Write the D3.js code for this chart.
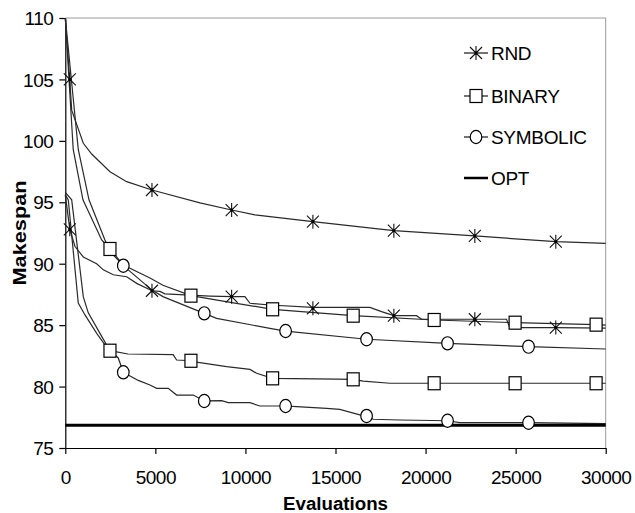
<!DOCTYPE html>
<html>
<head>
<meta charset="utf-8">
<script src="https://cdn.jsdelivr.net/npm/d3@7"></script>
<style>
  body { margin: 0; background: #fff; }
  svg text { font-family: "Liberation Sans", Arial, sans-serif; fill: #000; }
</style>
</head>
<body>
<div id="chart"></div>
<script>
// tamanho da janela
const width = 635;
const height = 513;

// valores: [avaliacoes, makespan]
const rndA = [[0,110],[250,104.9],[355,102.5],[1000,99.8],[1465,98.93],[2480,97.49],[3407,96.68],[4811,96.0],[7475,94.95],[9234,94.37],[10527,93.97],[13745,93.42],[18240,92.69],[22735,92.26],[27230,91.79],[30000,91.66]];
const rndB = [[0,95.6],[250,92.8],[540,91.4],[1000,90.55],[1740,90.0],[2110,89.5],[2660,89.1],[3407,88.94],[3962,88.4],[4811,87.8],[5255,87.75],[5533,87.55],[8030,87.37],[9234,87.32],[9972,87.32],[10250,86.78],[11360,86.64],[13745,86.45],[16908,86.45],[17558,86.1],[18240,85.77],[19500,85.77],[19778,85.48],[22735,85.48],[24495,85.48],[24678,84.8],[27230,84.8],[30000,84.75]];
const binA = [[0,110],[440,99.3],[980,95.2],[2020,91.93],[2480,91.2],[3220,89.9],[4700,88.84],[5420,88.25],[6975,87.4],[9000,86.9],[11509,86.29],[15982,85.77],[20477,85.42],[24972,85.2],[29467,85.04],[30000,85.0]];
const binB = [[0,95.8],[355,95.2],[1000,87.3],[1276,86.0],[1925,84.33],[2480,82.92],[3480,82.65],[5990,82.6],[6180,82.16],[6975,82.1],[7380,81.97],[8955,81.62],[10250,81.4],[10620,81.08],[11509,80.67],[15060,80.6],[15982,80.59],[16540,80.45],[18020,80.27],[30000,80.27]];
const symA = [[0,110],[720,99.3],[1315,95.2],[2200,91.93],[2480,91.0],[3220,89.84],[4811,87.85],[5420,87.32],[7714,85.96],[8400,85.55],[11360,84.74],[12230,84.52],[16725,83.85],[21220,83.52],[25716,83.25],[30000,83.06]];
const symB = [[0,95.6],[166,95.2],[720,86.8],[1093,85.83],[1743,84.33],[2300,83.2],[2480,82.95],[2940,82.33],[3219,81.16],[4050,80.5],[4700,80.13],[5070,79.86],[5715,79.86],[6180,79.31],[7100,79.31],[7714,78.83],[8680,78.85],[9050,78.69],[10250,78.69],[10800,78.42],[12230,78.42],[12840,78.37],[14505,78.23],[15240,78.15],[16350,77.7],[16725,77.61],[17090,77.34],[18570,77.28],[21220,77.22],[21900,77.06],[25716,77.06],[30000,76.98]];
const optValue = 76.85;

// posicoes dos marcadores e valores
const rndMarkX = [250, 4811, 9234, 13745, 18240, 22735, 27230];
const rndAMarks = [105.0, 96.0, 94.37, 93.42, 92.69, 92.26, 91.79];
const rndBMarks = [92.8, 87.8, 87.32, 86.37, 85.77, 85.48, 84.8];
const binMarkX = [2480, 6975, 11509, 15982, 20477, 24972, 29467];
const binAMarks = [91.2, 87.4, 86.29, 85.77, 85.42, 85.2, 85.04];
const binBMarks = [82.92, 82.1, 80.67, 80.59, 80.27, 80.27, 80.27];
const symMarkX = [3220, 7714, 12230, 16725, 21220, 25716];
const symAMarks = [89.84, 85.96, 84.52, 83.85, 83.52, 83.25];
const symBMarks = [81.16, 78.83, 78.42, 77.61, 77.22, 77.06];

const xTicks = [0, 5000, 10000, 15000, 20000, 25000, 30000];
const yTicks = [75, 80, 85, 90, 95, 100, 105, 110];
const legendLabels = ["RND", "BINARY", "SYMBOLIC", "OPT"];

const svg = d3.select("#chart").append("svg")
    .attr("width", width)
    .attr("height", height);

// escalas
const x = d3.scaleLinear().domain([0, 30000]).range([65.3, 605.7]);
const y = d3.scaleLinear().domain([75, 110]).range([448, 18]);

// borda cinza da area do grafico (topo e direita)
svg.append("path")
    .attr("d", `M${x(0)},${y(110)}H${x(30000)}V${y(75)}`)
    .attr("fill", "none")
    .attr("stroke", "#9a9a9a")
    .attr("stroke-width", 1);

// eixos
const yAxis = svg.append("g")
    .attr("transform", `translate(${x(0)},0)`)
    .call(d3.axisLeft(y).tickValues(yTicks).tickSize(6).tickSizeOuter(0).tickPadding(6));
const xAxis = svg.append("g")
    .attr("transform", `translate(0,${y(75)})`)
    .call(d3.axisBottom(x).tickValues(xTicks).tickSize(6).tickSizeOuter(0).tickPadding(17).tickFormat(d3.format("d")));

[yAxis, xAxis].forEach(g => {
    g.selectAll("path, line").attr("stroke", "#000").attr("stroke-width", 1.2);
    g.selectAll("text")
        .style("font-family", "'Liberation Sans', Arial, sans-serif")
        .style("font-size", "19px")
        .style("letter-spacing", "-0.5px")
        .attr("fill", "#000");
});
yAxis.selectAll("text").attr("dy", "0.35em");

// titulos dos eixos
svg.append("text")
    .attr("x", (x(0) + x(30000)) / 2)
    .attr("y", 510)
    .attr("text-anchor", "middle")
    .attr("font-weight", "bold")
    .attr("font-size", "18px")
    .attr("textLength", 105)
    .attr("lengthAdjust", "spacingAndGlyphs")
    .text("Evaluations");

svg.append("text")
    .attr("transform", `translate(26,${(y(75) + y(110)) / 2}) rotate(-90)`)
    .attr("text-anchor", "middle")
    .attr("font-weight", "bold")
    .attr("font-size", "19px")
    .attr("textLength", 105)
    .attr("lengthAdjust", "spacingAndGlyphs")
    .text("Makespan");

// linhas das series
const line = d3.line().x(d => x(d[0])).y(d => y(d[1]));

const seriesList = [rndA, rndB, binA, binB, symA, symB];
svg.append("g")
    .selectAll("path")
    .data(seriesList)
    .enter()
    .append("path")
    .attr("d", line)
    .attr("fill", "none")
    .attr("stroke", "#2a2a2a")
    .attr("stroke-width", 1.2);

// linha OPT
svg.append("line")
    .attr("x1", x(0)).attr("x2", x(30000))
    .attr("y1", y(optValue)).attr("y2", y(optValue))
    .attr("stroke", "#000")
    .attr("stroke-width", 3);

// formas dos marcadores
function drawStar(g, cx, cy) {
    g.append("path")
        .attr("d", `M${cx},${cy - 7}V${cy + 7}M${cx - 6},${cy - 6}L${cx + 6},${cy + 6}M${cx - 6},${cy + 6}L${cx + 6},${cy - 6}`)
        .attr("stroke", "#111")
        .attr("stroke-width", 1.1)
        .attr("fill", "none");
    g.append("circle").attr("cx", cx).attr("cy", cy).attr("r", 1.5).attr("fill", "#000");
}
function drawSquare(g, cx, cy) {
    g.append("rect")
        .attr("x", cx - 6).attr("y", cy - 6.5)
        .attr("width", 12).attr("height", 13)
        .attr("fill", "#fff")
        .attr("stroke", "#000")
        .attr("stroke-width", 1.2);
}
function drawCircle(g, cx, cy) {
    g.append("ellipse")
        .attr("cx", cx).attr("cy", cy)
        .attr("rx", 5.8).attr("ry", 6.6)
        .attr("fill", "#fff")
        .attr("stroke", "#000")
        .attr("stroke-width", 1.2);
}

const marks = svg.append("g");
rndMarkX.forEach((ev, i) => {
    drawStar(marks, x(ev), y(rndAMarks[i]));
    drawStar(marks, x(ev), y(rndBMarks[i]));
});
binMarkX.forEach((ev, i) => {
    drawSquare(marks, x(ev), y(binAMarks[i]));
    drawSquare(marks, x(ev), y(binBMarks[i]));
});
symMarkX.forEach((ev, i) => {
    drawCircle(marks, x(ev), y(symAMarks[i]));
    drawCircle(marks, x(ev), y(symBMarks[i]));
});

// legenda
const legend = svg.append("g");
const legendY = [53, 96, 137, 178];
legendLabels.forEach((label, i) => {
    const ly = legendY[i];
    legend.append("line")
        .attr("x1", 464).attr("x2", 488)
        .attr("y1", ly).attr("y2", ly)
        .attr("stroke", "#000")
        .attr("stroke-width", label === "OPT" ? 2.5 : 1.1);
    if (i === 0) drawStar(legend, 476, ly);
    if (i === 1) drawSquare(legend, 476, ly);
    if (i === 2) drawCircle(legend, 476, ly);
    legend.append("text")
        .attr("x", 491)
        .attr("y", ly + 7)
        .attr("font-size", "19px")
        .attr("letter-spacing", "-0.3px")
        .text(label);
});
</script>
</body>
</html>
